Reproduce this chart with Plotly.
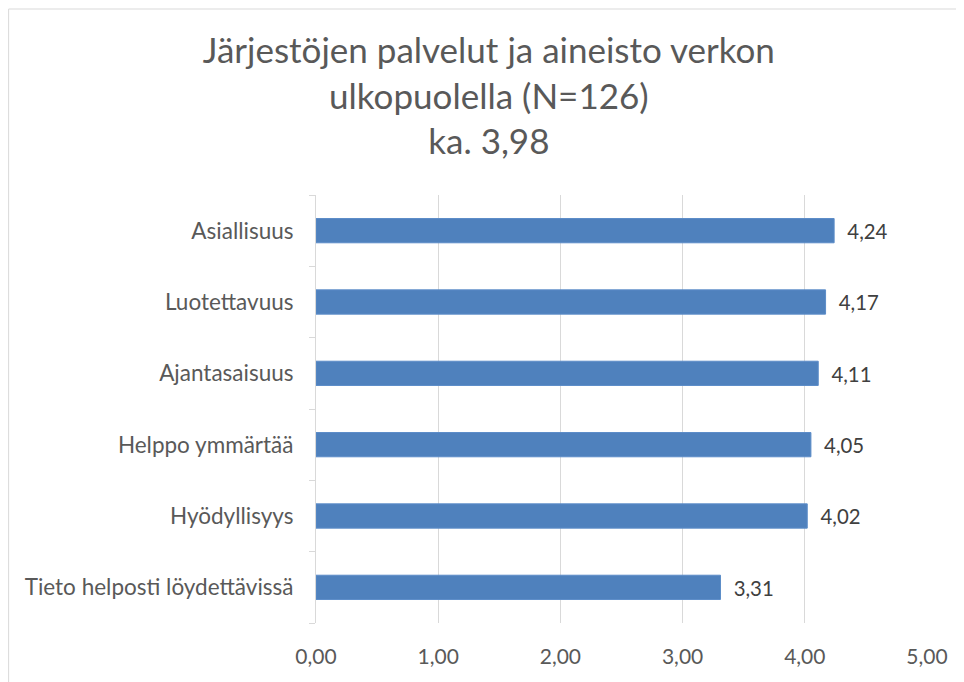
import plotly.graph_objects as go

# Kyselyn tulokset, keskiarvot (ylhäältä alas kuten kuvassa)
categories = [
    "Asiallisuus",
    "Luotettavuus",
    "Ajantasaisuus",
    "Helppo ymmärtää",
    "Hyödyllisyys",
    "Tieto helposti löydettävissä",
]
values = [4.24, 4.17, 4.11, 4.05, 4.02, 3.31]
tick_vals = [0, 1, 2, 3, 4, 5]
tick_text = ["0,00", "1,00", "2,00", "3,00", "4,00", "5,00"]

title_text = "Järjestöjen palvelut ja aineisto verkon<br>ulkopuolella (N=126)<br>ka. 3,98"

# page has an 8px body margin, so the figure is a bit smaller than the window
W, H = 956, 674
L, R, T, B = 308, 37, 187, 59
pw, ph = W - L - R, H - T - B

labels = ["\u2002" + "{:.2f}".format(v).replace(".", ",") for v in values]

fig = go.Figure(go.Bar(
    x=values,
    y=categories,
    orientation="h",
    marker=dict(color="#4F81BD", line=dict(color="#5B8CC8", width=1)),
    text=labels,
    textposition="outside",
    textfont=dict(size=21, color="#404040"),
    cliponaxis=False,
    width=0.34,
))

fig.update_layout(
    width=W,
    height=H,
    font=dict(family="Lato, 'Open Sans', sans-serif", color="#595959"),
    paper_bgcolor="white",
    plot_bgcolor="white",
    margin=dict(l=L, r=R, t=T, b=B, autoexpand=False),
    showlegend=False,
    title=dict(
        text=title_text,
        x=0.503,
        xanchor="center",
        y=0.918,
        yanchor="middle",
        font=dict(size=35, color="#595959"),
    ),
    xaxis=dict(
        range=[0, 5],
        tickvals=tick_vals,
        ticktext=tick_text,
        showgrid=True,
        gridcolor="#D9D9D9",
        gridwidth=1,
        zeroline=False,
        showline=False,
        tickfont=dict(size=21, color="#595959"),
        ticks="",
        ticklabelstandoff=19,
    ),
    yaxis=dict(
        categoryorder="array",
        categoryarray=categories[::-1],
        showline=True,
        linecolor="#D9D9D9",
        linewidth=1,
        ticks="outside",
        tickson="boundaries",
        ticklen=6,
        tickcolor="#D9D9D9",
        tickfont=dict(size=22.5, color="#595959"),
        showgrid=False,
        ticklabelstandoff=17,
    ),
    shapes=[
        # chart border (left and top visible in the picture)
        dict(type="rect", xref="paper", yref="paper",
             x0=-L / pw + 0.001, x1=(W - L + 5) / pw,
             y0=-(B + 5) / ph, y1=1 + (T - 1) / ph,
             line=dict(color="#D9D9D9", width=1), layer="below"),
    ],
)

fig.write_html("out.html")
